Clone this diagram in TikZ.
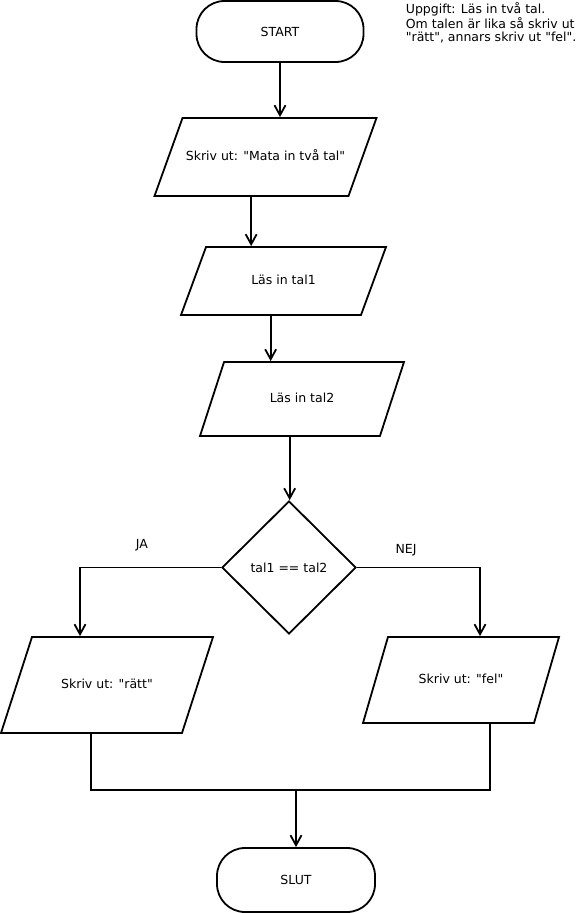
\documentclass[tikz,border=0pt]{standalone}
\usepackage{fontspec}
\setmainfont{DejaVu Sans}[Ligatures=TeXOff]
\usetikzlibrary{positioning,arrows.meta,shapes.geometric}

\begin{document}
\begin{tikzpicture}[
    x=1pt, y=-1pt,
    line width=1.8pt,
    font=\fontsize{12.5}{13.5}\selectfont,
    terminal/.style={draw, rounded corners=28pt, minimum width=167pt, minimum height=61pt},
    io/.style n args={4}{draw, trapezium, trapezium stretches body=true, text height=10pt, text depth=3pt,
        minimum width=#1, inner ysep=#2, trapezium left angle=#3, trapezium right angle=#4},
    beslut/.style={draw, diamond, aspect=1, minimum width=134pt, minimum height=133pt, inner sep=0pt},
    etikett/.style={inner sep=0pt},
    arr/.style={-{Straight Barb[length=10pt,width=11pt]}}
]
\useasboundingbox (0,0) rectangle (579,913);

% Start and input
\node[terminal] (start) at (280,31.5) {START};
\node[io={217pt}{32.5pt}{70.25}{109.75}] (mata) at (265.5,157) {Skriv ut: "Mata in två tal"};
\node[io={205pt}{27.5pt}{69.8}{110.2}] (tal1) at (283.5,281) {Läs in tal1};
\node[io={204pt}{30.5pt}{72}{108}] (tal2) at (302,399) {Läs in tal2};
\draw[arr] (start) -- (start |- mata.north);
\draw[arr] (mata.bottom side) -- (mata.bottom side |- tal1.north);
\draw[arr] (tal1.bottom side) -- (tal1.bottom side |- tal2.north);

% Decision
\node[beslut] (jmf) at (289,567.5) {tal1 == tal2};
\draw[arr] (tal2.bottom side) -- (tal2.bottom side |- jmf.north);
\node[etikett] (ja) at (142,545) {JA};
\node[etikett] (nej) at (406,550) {NEJ};

% Output
\node[io={212pt}{41.5pt}{72.1}{107.9}] (ratt) at (107,685) {Skriv ut: "rätt"};
\node[io={196pt}{36.5pt}{73.8}{106.2}] (fel) at (461,680) {Skriv ut: "fel"};
\draw[arr] (jmf.west) -| ([xshift=-27pt]ratt.north);
\draw[arr] (jmf.east) -| ([xshift=19pt]fel.north);

% End
\node[terminal, minimum width=158pt, minimum height=64pt] (slut) at (296,880) {SLUT};
\coordinate (samman) at (296,790);
\draw (ratt.bottom side) |- (samman) -| ([xshift=29pt]fel.south);
\draw[arr] (samman) -- (slut);

% Task text
\node[align=left, anchor=north west, inner sep=0pt] (uppgift) at (405,2) {Uppgift: Läs in två tal.\\Om talen är lika så skriv ut\\"rätt", annars skriv ut "fel".};
\end{tikzpicture}
\end{document}
